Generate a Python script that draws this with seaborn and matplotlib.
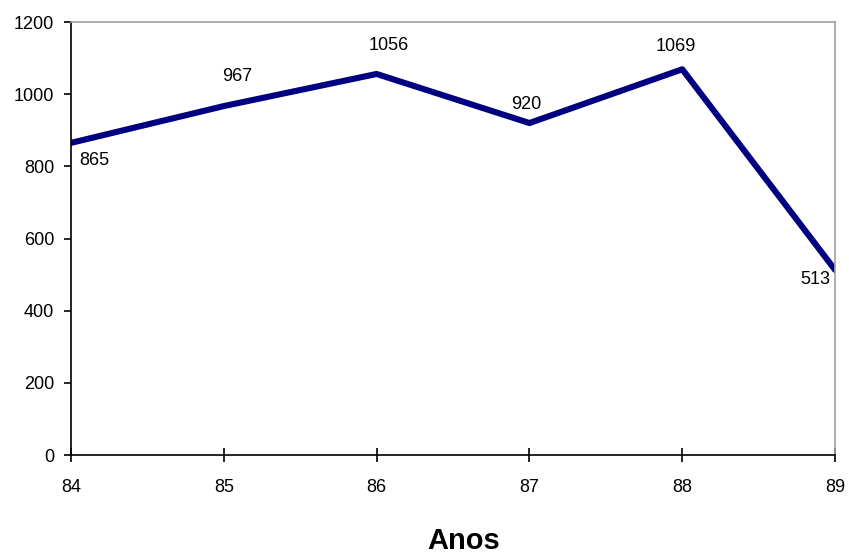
import numpy as np
import pandas as pd
import matplotlib.pyplot as plt
import seaborn as sns

anos = [84, 85, 86, 87, 88, 89]
valores = [865, 967, 1056, 920, 1069, 513]
# deslocamento dos rótulos (pixels)
offsets = [(23, -18), (13, 30), (12, 28), (-3, 19), (-6, 23), (-20, -10)]

sns.set_style("white")
plt.rcParams['font.family'] = ['Liberation Sans', 'DejaVu Sans']
plt.rcParams['text.color'] = 'black'

df = pd.DataFrame({"ano": anos, "valor": valores})

fig = plt.figure(figsize=(8.49, 5.57), dpi=100)
ax = fig.add_axes([0.0836, 0.1831, 0.9, 0.7774])
sns.lineplot(data=df, x="ano", y="valor", color="#000080", linewidth=4.4, ax=ax)

for x, y, (dx, dy) in zip(anos, valores, offsets):
    ax.annotate(str(y), (x, y), xytext=(dx, dy), textcoords="offset pixels",
                ha="center", va="center", fontsize=13, color="black")

ax.set_xlim(84, 89)
ax.set_ylim(0, 1200)
ax.set_xticks(anos)
ax.set_yticks(range(0, 1201, 200))
ax.tick_params(axis="x", bottom=True, direction="inout", length=10, width=1.2,
               pad=12, labelsize=13, colors="black")
ax.tick_params(axis="y", left=True, direction="out", length=5, width=1.2,
               pad=7, labelsize=13, colors="black")
ax.set_ylabel("")
ax.set_xlabel("Anos", fontsize=21, fontweight="bold", color="black", va="baseline")
ax.xaxis.set_label_coords(0.514, -0.218)

for s in ["left", "bottom"]:
    ax.spines[s].set_color("black")
    ax.spines[s].set_linewidth(1.2)
for s in ["top", "right"]:
    ax.spines[s].set_color("#a0a0a0")
    ax.spines[s].set_linewidth(1.2)

fig.savefig("out.png", dpi=100)
